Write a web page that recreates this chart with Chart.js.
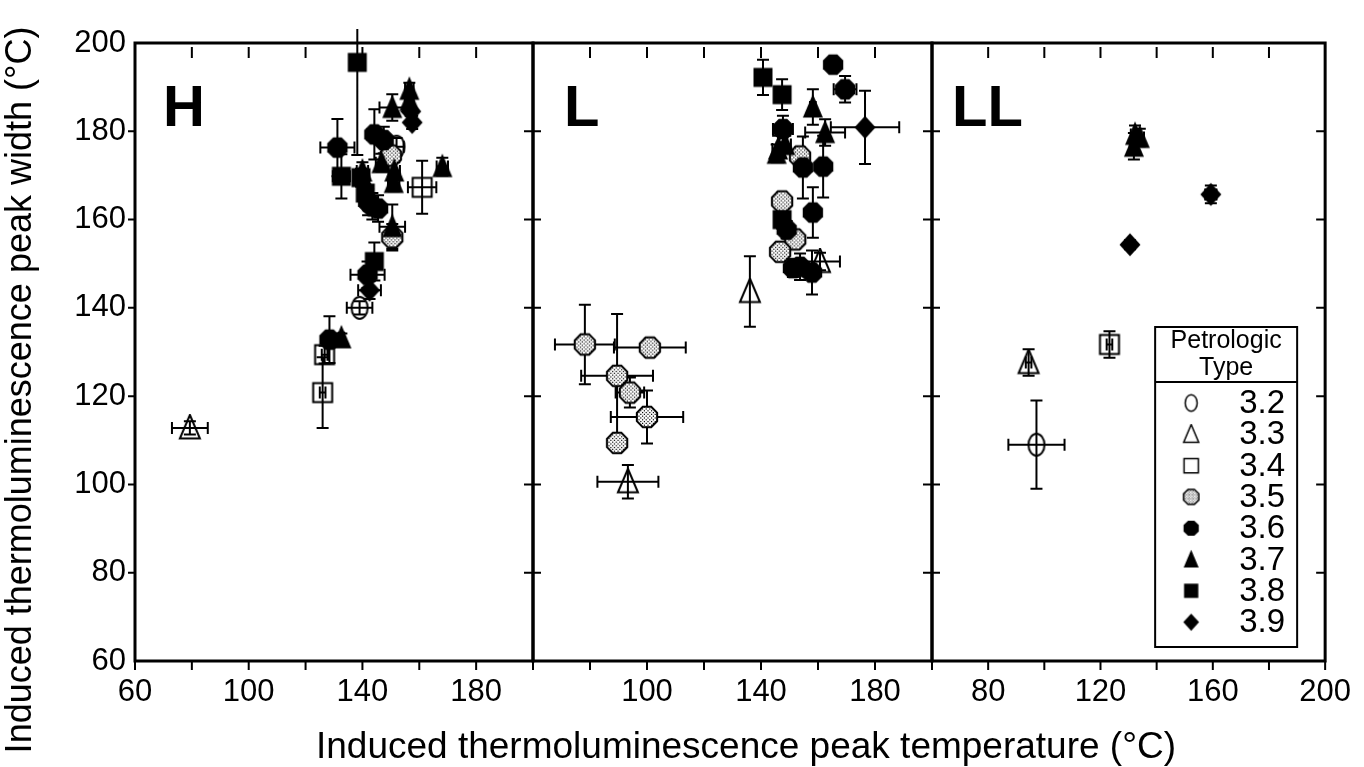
<!DOCTYPE html>
<html>
<head>
<meta charset="utf-8">
<script src="https://cdn.jsdelivr.net/npm/chart.js@4.4.0/dist/chart.umd.min.js"></script>
<style>
  html, body { margin: 0; padding: 0; background: #fff; }
  #wrap { position: relative; width: 1364px; height: 767px; }
  #wrap canvas { position: absolute; left: 0; top: 0; }
</style>
</head>
<body>
<div id="wrap">
  <canvas id="panelH" width="1364" height="767"></canvas>
  <canvas id="panelL" width="1364" height="767"></canvas>
  <canvas id="panelLL" width="1364" height="767"></canvas>
</div>
<script>
// ---- data ----
const TYPES = ['3.2', '3.3', '3.4', '3.5', '3.6', '3.7', '3.8', '3.9'];
const xTicks = [60, 80, 100, 120, 140, 160, 180, 200];
const yTicks = [60, 80, 100, 120, 140, 160, 180, 200];
const xLabelsH = [60, 100, 140, 180];
const xLabelsL = [100, 140, 180];
const xLabelsLL = [80, 120, 160, 200];
const yTitle = 'Induced thermoluminescence peak width (°C)';
const xTitle = 'Induced thermoluminescence peak temperature (°C)';
const legendTitle = ['Petrologic', 'Type'];

// [type, peak temperature, peak width, temperature error, width error]
const pointsH = [
  ['3.8', 138.2, 195.6, 0, 21],
  ['3.6', 131.2, 176.3, 6, 6.5],
  ['3.7', 150.5, 185.4, 4.5, 3],
  ['3.7', 156.5, 189.5, 1.5, 1.5],
  ['3.7', 156.5, 187, 1.5, 1.5],
  ['3.9', 157, 184.5, 1, 1],
  ['3.9', 157.5, 182, 1.5, 1.5],
  ['3.6', 144.2, 179.3, 2.5, 5.7],
  ['3.6', 147.5, 178, 2, 3],
  ['3.2', 152, 176.5, 2.5, 2],
  ['3.5', 150, 174.5, 3, 2],
  ['3.7', 146.7, 172.9, 2, 2],
  ['3.7', 151.2, 171, 2, 2],
  ['3.7', 151, 168.4, 2, 2],
  ['3.7', 168.1, 172, 2, 2],
  ['3.4', 161, 167.3, 5, 6],
  ['3.8', 132.6, 169.8, 3, 5],
  ['3.8', 139.5, 169.5, 2, 2],
  ['3.8', 141, 166, 2, 2],
  ['3.7', 140, 171, 2, 2],
  ['3.6', 142, 164, 2, 3],
  ['3.6', 143.5, 163, 2, 3],
  ['3.6', 145.5, 162.5, 2, 3],
  ['3.7', 150.5, 158.4, 4.5, 5],
  ['3.5', 150.5, 156, 2, 3],
  ['3.8', 144.2, 150.5, 2, 4.3],
  ['3.6', 141.8, 147.5, 6, 3],
  ['3.9', 142.5, 144, 4, 2],
  ['3.2', 139, 140, 4.5, 1.5],
  ['3.6', 128.4, 132.8, 2, 5.3],
  ['3.7', 132.6, 133.2, 1, 1],
  ['3.4', 126.7, 129.4, 1, 2],
  ['3.4', 126, 120.8, 1, 8],
  ['3.3', 79.3, 112.8, 6.3, 1.5]
];

const pointsL = [
  ['3.8', 140.7, 192.2, 1.5, 4],
  ['3.8', 147.4, 188.3, 1.5, 3.5],
  ['3.6', 165.3, 195.1, 2, 1],
  ['3.6', 169.5, 189.5, 4, 3],
  ['3.9', 176.5, 180.9, 12, 8.3],
  ['3.7', 158.2, 185.5, 1, 4],
  ['3.7', 162.5, 179.7, 7, 3],
  ['3.6', 147.7, 180.5, 3.5, 3],
  ['3.7', 146, 176, 2, 3],
  ['3.7', 148.5, 177, 2, 2],
  ['3.7', 145.5, 175, 1.5, 2],
  ['3.5', 153.7, 174.3, 1, 2],
  ['3.6', 154.7, 171.8, 2, 7],
  ['3.6', 161.8, 172, 2, 7],
  ['3.6', 158.2, 161.6, 1.5, 5.7],
  ['3.5', 147.4, 164.1, 1.5, 2],
  ['3.8', 147.4, 160, 1.5, 2],
  ['3.6', 149, 157.7, 2, 2],
  ['3.5', 152, 155.5, 1.5, 2],
  ['3.5', 146.7, 152.7, 1.5, 2],
  ['3.3', 160.7, 150.5, 7, 2],
  ['3.6', 151.2, 149, 1, 2],
  ['3.6', 153.7, 149.3, 2, 3],
  ['3.6', 157.9, 148, 2, 5],
  ['3.3', 136.1, 143.7, 0, 8],
  ['3.5', 78.2, 131.7, 10.5, 9],
  ['3.5', 101, 131, 12.6, 2],
  ['3.5', 89.5, 124.6, 12.6, 14],
  ['3.5', 94, 120.8, 5, 3.4],
  ['3.5', 100, 115.3, 12.7, 6],
  ['3.5', 89.5, 109.4, 0, 0],
  ['3.3', 93.3, 100.6, 10.7, 3.8]
];

const pointsLL = [
  ['3.7', 132.3, 179.3, 1.5, 2],
  ['3.7', 131.9, 176.6, 1.5, 3],
  ['3.7', 134, 178.6, 1.5, 2],
  ['3.9', 159.3, 165.7, 2, 2],
  ['3.9', 130.5, 154.3, 1, 1],
  ['3.4', 123.2, 131.7, 1, 3],
  ['3.3', 94.4, 127.6, 1, 3],
  ['3.2', 97.2, 109, 10, 10]
];

Chart.defaults.font.family = "'Liberation Sans', Arial, sans-serif";
Chart.defaults.color = '#000';

// ---- marker images ----
function makeMarker(type, s) {
  s = s || 1;
  const size = Math.ceil(28 * s);
  const c = document.createElement('canvas');
  c.width = size; c.height = size;
  const g = c.getContext('2d');
  const m = size / 2;
  g.lineWidth = 2 * s;
  g.strokeStyle = '#000';
  g.fillStyle = '#000';
  g.beginPath();
  if (type === '3.2') {
    g.ellipse(m, m, 8 * s, 11 * s, 0, 0, Math.PI * 2);
  } else if (type === '3.3' || type === '3.7') {
    g.moveTo(m, m - 13 * s); g.lineTo(m + 10 * s, m + 10.5 * s); g.lineTo(m - 10 * s, m + 10.5 * s); g.closePath();
  } else if (type === '3.4' || type === '3.8') {
    g.rect(m - 9.5 * s, m - 9.5 * s, 19 * s, 19 * s);
  } else if (type === '3.9') {
    g.moveTo(m, m - 11.5 * s); g.lineTo(m + 10.5 * s, m); g.lineTo(m, m + 11.5 * s); g.lineTo(m - 10.5 * s, m); g.closePath();
  } else {
    const r = 11 * s;
    for (let i = 0; i < 8; i++) {
      const a = Math.PI / 8 + i * Math.PI / 4;
      const px = m + r * Math.cos(a), py = m + r * Math.sin(a);
      if (i === 0) g.moveTo(px, py); else g.lineTo(px, py);
    }
    g.closePath();
  }
  if (type === '3.2' || type === '3.3' || type === '3.4') {
    g.stroke();
  } else if (type === '3.5') {
    g.fillStyle = '#fff';
    g.fill();
    g.save();
    g.clip();
    g.fillStyle = '#000';
    const step = 3.6 * s;
    let row = 0;
    for (let yy = 0; yy < size; yy += step / 2, row++) {
      for (let xx = (row % 2) * step / 2; xx < size; xx += step) {
        g.fillRect(xx, yy, 1.2 * s, 1.2 * s);
      }
    }
    g.restore();
    g.stroke();
  } else {
    g.fill();
  }
  return c;
}

const markers = {};
const legendMarkers = {};
TYPES.forEach(t => { markers[t] = makeMarker(t, 1); legendMarkers[t] = makeMarker(t, 0.75); });

function buildDatasets(points) {
  return TYPES.map(t => ({
    label: t,
    data: points.filter(p => p[0] === t).map(p => ({ x: p[1], y: p[2], xe: p[3], ye: p[4] })),
    pointStyle: markers[t],
    pointRadius: 10,
    showLine: false
  })).reverse();
}

// ---- plugins ----
const errorBars = {
  id: 'errorBars',
  beforeDatasetsDraw(chart) {
    const { ctx, chartArea: a, scales: { x, y } } = chart;
    const cap = 6;
    ctx.save();
    ctx.beginPath();
    ctx.rect(a.left, a.top - 14, a.right - a.left, a.bottom - a.top + 14);
    ctx.clip();
    ctx.strokeStyle = '#000';
    ctx.lineWidth = 2;
    ctx.beginPath();
    chart.data.datasets.forEach(ds => ds.data.forEach(p => {
      const px = x.getPixelForValue(p.x), py = y.getPixelForValue(p.y);
      if (p.xe) {
        const x0 = x.getPixelForValue(p.x - p.xe), x1 = x.getPixelForValue(p.x + p.xe);
        ctx.moveTo(x0, py); ctx.lineTo(x1, py);
        ctx.moveTo(x0, py - cap); ctx.lineTo(x0, py + cap);
        ctx.moveTo(x1, py - cap); ctx.lineTo(x1, py + cap);
      }
      if (p.ye) {
        const y0 = y.getPixelForValue(p.y - p.ye), y1 = y.getPixelForValue(p.y + p.ye);
        ctx.moveTo(px, y0); ctx.lineTo(px, y1);
        ctx.moveTo(px - cap, y0); ctx.lineTo(px + cap, y0);
        ctx.moveTo(px - cap, y1); ctx.lineTo(px + cap, y1);
      }
    }));
    ctx.stroke();
    ctx.restore();
  }
};

const frame = {
  id: 'frame',
  afterDatasetsDraw(chart, args, opts) {
    const { ctx, chartArea: a, scales: { x, y } } = chart;
    ctx.save();
    ctx.strokeStyle = '#000';
    ctx.lineWidth = 3;
    ctx.strokeRect(a.left, a.top, a.right - a.left, a.bottom - a.top);
    ctx.lineWidth = 2;
    ctx.beginPath();
    xTicks.forEach(v => {
      const px = x.getPixelForValue(v);
      ctx.moveTo(px, a.bottom); ctx.lineTo(px, a.bottom + 9);
      if (v > xTicks[0] && v < xTicks[xTicks.length - 1]) {
        ctx.moveTo(px, a.top + 4); ctx.lineTo(px, a.top + 15);
      }
    });
    yTicks.forEach(v => {
      if (v === yTicks[0] || v === yTicks[yTicks.length - 1]) return;
      const py = y.getPixelForValue(v);
      if (opts.leftOut) { ctx.moveTo(a.left - 7, py); ctx.lineTo(a.left, py); }
      else { ctx.moveTo(a.left, py); ctx.lineTo(a.left + 8, py); }
      ctx.moveTo(a.right - 9, py); ctx.lineTo(a.right, py);
    });
    ctx.stroke();
    ctx.fillStyle = '#000';
    ctx.font = "bold 58px 'Liberation Sans', Arial, sans-serif";
    ctx.textBaseline = 'alphabetic';
    ctx.textAlign = 'left';
    ctx.fillText(opts.letter, a.left + opts.letterDx, a.top + 83);
    ctx.restore();
  }
};

const axisTitles = {
  id: 'axisTitles',
  afterDraw(chart, args, opts) {
    if (!opts.show) return;
    const { ctx } = chart;
    ctx.save();
    ctx.fillStyle = '#000';
    ctx.font = "37px 'Liberation Sans', Arial, sans-serif";
    ctx.textAlign = 'center';
    ctx.textBaseline = 'alphabetic';
    ctx.fillText(xTitle, 746, 758);
    ctx.font = "36px 'Liberation Sans', Arial, sans-serif";
    ctx.translate(31, 390);
    ctx.rotate(-Math.PI / 2);
    ctx.fillText(yTitle, 0, 0);
    ctx.restore();
  }
};

const typeLegend = {
  id: 'typeLegend',
  afterDraw(chart, args, opts) {
    if (!opts.show) return;
    const { ctx, chartArea: a } = chart;
    const w = 142, h = 320;
    const left = a.right - 28 - w, top = a.bottom - 14 - h;
    ctx.save();
    ctx.fillStyle = '#fff';
    ctx.fillRect(left, top, w, h);
    ctx.strokeStyle = '#000';
    ctx.lineWidth = 2;
    ctx.strokeRect(left, top, w, h);
    ctx.beginPath();
    ctx.moveTo(left, top + 55); ctx.lineTo(left + w, top + 55);
    ctx.stroke();
    ctx.fillStyle = '#000';
    ctx.textAlign = 'center';
    ctx.textBaseline = 'middle';
    ctx.font = "25px 'Liberation Sans', Arial, sans-serif";
    ctx.fillText(legendTitle[0], left + w / 2, top + 14);
    ctx.fillText(legendTitle[1], left + w / 2, top + 41);
    ctx.font = "33px 'Liberation Sans', Arial, sans-serif";
    ctx.textAlign = 'right';
    TYPES.forEach((t, i) => {
      const cy = top + 76 + i * 31.3;
      const img = legendMarkers[t];
      ctx.drawImage(img, left + 36 - img.width / 2, cy - img.height / 2);
      ctx.fillText(t, left + 130, cy + 1);
    });
    ctx.restore();
  }
};

function makePanel(id, points, labels, pad, opts) {
  return new Chart(document.getElementById(id), {
    type: 'scatter',
    data: { datasets: buildDatasets(points) },
    plugins: [errorBars, frame, axisTitles, typeLegend],
    options: {
      responsive: false,
      animation: false,
      devicePixelRatio: 1,
      layout: { padding: { left: pad.left, right: pad.right, top: 43, bottom: 0 } },
      scales: {
        x: {
          type: 'linear', min: 60, max: 200,
          grid: { display: false, drawTicks: false },
          border: { display: false },
          ticks: {
            stepSize: 20, autoSkip: false, maxRotation: 0, padding: 13,
            font: { size: 31 },
            callback: v => labels.includes(v) ? String(v) : ''
          },
          afterFit: s => { s.height = 106; }
        },
        y: {
          type: 'linear', min: 60, max: 200,
          display: opts.showY,
          grid: { display: false, drawTicks: false },
          border: { display: false },
          ticks: { stepSize: 20, padding: 9, font: { size: 31 } },
          afterFit: s => { if (opts.showY) s.width = 135; }
        }
      },
      plugins: {
        legend: { display: false },
        tooltip: { enabled: false },
        frame: { letter: opts.letter, letterDx: opts.letterDx, leftOut: opts.showY },
        axisTitles: { show: !!opts.titles },
        typeLegend: { show: !!opts.legend }
      }
    }
  });
}

makePanel('panelH', pointsH, xLabelsH, { left: 0, right: 831 }, { showY: true, letter: 'H', letterDx: 28, titles: true });
makePanel('panelL', pointsL, xLabelsL, { left: 533, right: 432 }, { showY: false, letter: 'L', letterDx: 31 });
makePanel('panelLL', pointsLL, xLabelsLL, { left: 932, right: 31 }, { showY: false, letter: 'LL', letterDx: 20, legend: true });
</script>
</body>
</html>
